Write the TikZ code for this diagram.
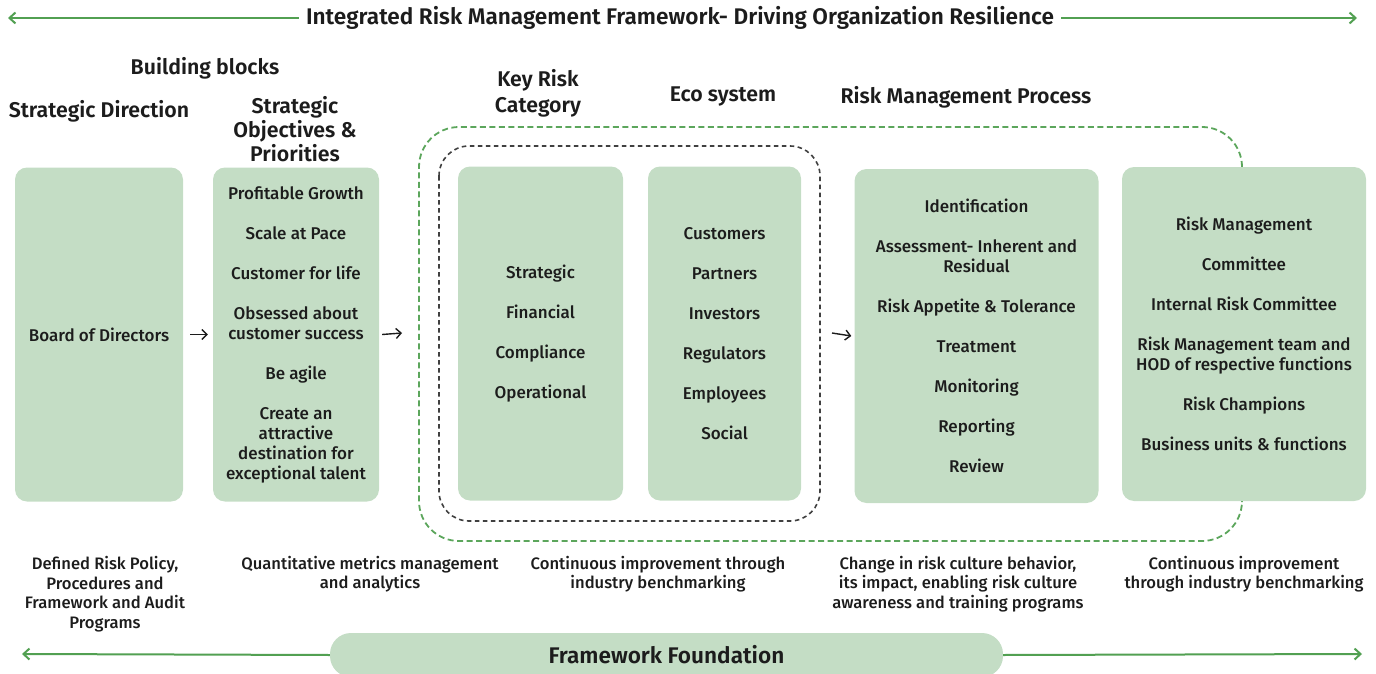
\documentclass[tikz,border=0pt]{standalone}
\usepackage{fontspec}
\setmainfont{Fira Sans}[UprightFont=* Medium, BoldFont=* SemiBold]
\usetikzlibrary{arrows.meta,positioning,fit}
\definecolor{boxgreen}{HTML}{C4DDC5}
\definecolor{linegreen}{HTML}{52A052}
\definecolor{dashgreen}{HTML}{5CA65C}
\definecolor{txt}{HTML}{1C1C1C}
\newcommand{\boxfont}{\fontsize{17}{20}\selectfont}
\tikzset{
  block/.style={
    rectangle, rounded corners=12pt,
    fill=boxgreen, draw=none,
    minimum width=#1, minimum height=334pt,
    align=center, font=\boxfont, text=txt,
    inner sep=0pt},
  block/.default=166pt,
  head/.style={
    align=center, text=txt, inner sep=0pt,
    font=\fontsize{21.3}{24}\selectfont\bfseries},
  note/.style={
    align=center, text=txt, inner sep=0pt,
    font=\fontsize{16.6}{19.5}\selectfont},
  pill/.style={
    rectangle, rounded corners=21pt, fill=boxgreen,
    minimum width=673pt, minimum height=44pt, text=txt,
    font=\fontsize{22.6}{26}\selectfont\bfseries},
  greenarrow/.style={-{Straight Barb[length=6pt,width=11pt,line width=2pt]}, line width=2pt, draw=linegreen},
  flowarrow/.style={-{Straight Barb[length=5pt,width=10pt,line width=1.4pt]}, line width=1.4pt, draw=txt},
}
\begin{document}
\begin{tikzpicture}[x=1pt, y=-1pt]
  \useasboundingbox (0,0) rectangle (1376,674);

  \node[head, font=\fontsize{22.6}{26}\selectfont\bfseries] (title) at (680,18) {Integrated Risk Management Framework- Driving Organization Resilience};
  \draw[greenarrow] (title.west) ++(-7pt,0) -- (8,18);
  \draw[greenarrow] (title.east) ++(7pt,0) -- (1357,18);

  \node[head] (bblocks) at (205,68) {Building blocks};
  \node[head] (sdir) at (99,111) {Strategic Direction};
  \node[head] (sobj) at (295,129) {Strategic\\Objectives \&\\Priorities};
  \node[head, font=\fontsize{21.3}{26}\selectfont\bfseries] (krc) at (538,93) {Key Risk\\Category};
  \node[head] (eco) at (723,96) {Eco system};
  \node[head] (rmp) at (966,97) {Risk Management Process};

  \draw[dashgreen, line width=1.8pt, dash pattern=on 6pt off 3.5pt, rounded corners=40pt]
    (1242,167) -- (1242,127) -- (419,127) -- (419,541) -- (1242,541) -- (1242,502);
  \draw[black!75, line width=1.6pt, dash pattern=on 4.5pt off 3.5pt, rounded corners=30pt]
    (439,146) rectangle (820,521);
  \coordinate (ecoframe) at (820,333);
  \coordinate (gframe) at (419,333);

  \node[block=168pt] (board) at (99,334.5) {Board of Directors};
  \node[block=166pt] (objs) at (296,334.5) {Profitable Growth\\[20pt]Scale at Pace\\[20pt]Customer for life\\[20pt]Obsessed about\\customer success\\[20pt]Be agile\\[20pt]Create an\\attractive\\destination for\\exceptional talent};
  \node[block=165pt] (cats) at (540.5,333.5) {Strategic\\[20pt]Financial\\[20pt]Compliance\\[20pt]Operational};
  \node[block=153pt] (parties) at (724.5,333.5) {Customers\\[20pt]Partners\\[20pt]Investors\\[20pt]Regulators\\[20pt]Employees\\[20pt]Social};
  \node[block=244pt] (steps) at (976.5,336) {Identification\\[20pt]Assessment- Inherent and\\Residual\\[20pt]Risk Appetite \& Tolerance\\[20pt]Treatment\\[20pt]Monitoring\\[20pt]Reporting\\[20pt]Review};
  \node[block=244pt] (owners) at (1244,334) {Risk Management\\[20pt]Committee\\[20pt]Internal Risk Committee\\[20pt]Risk Management team and\\HOD of respective functions\\[20pt]Risk Champions\\[20pt]Business units \& functions};

  \draw[flowarrow] ([xshift=7pt]board.east) -- ([xshift=-5pt]objs.west);
  \draw[flowarrow] ([xshift=3pt]objs.east) -- ([xshift=-17pt]gframe);
  \draw[flowarrow] ([xshift=12pt]ecoframe) -- ([xshift=-3pt]steps.west);

  \node[note] (n1) at (105,594) {Defined Risk Policy,\\Procedures and\\Framework and Audit\\Programs};
  \node[note] (n2) at (370,574) {Quantitative metrics management\\and analytics};
  \node[note] (n3) at (658,574) {Continuous improvement through\\industry benchmarking};
  \node[note] (n4) at (958,584) {Change in risk culture behavior,\\its impact, enabling risk culture\\awareness and training programs};
  \node[note] (n5) at (1244,574) {Continuous improvement\\through industry benchmarking};

  \node[pill] (found) at (666.5,655) {Framework Foundation};
  \draw[greenarrow] (found.west) -- (22,654);
  \draw[greenarrow] (found.east) -- (1362,654);
\end{tikzpicture}
\end{document}
